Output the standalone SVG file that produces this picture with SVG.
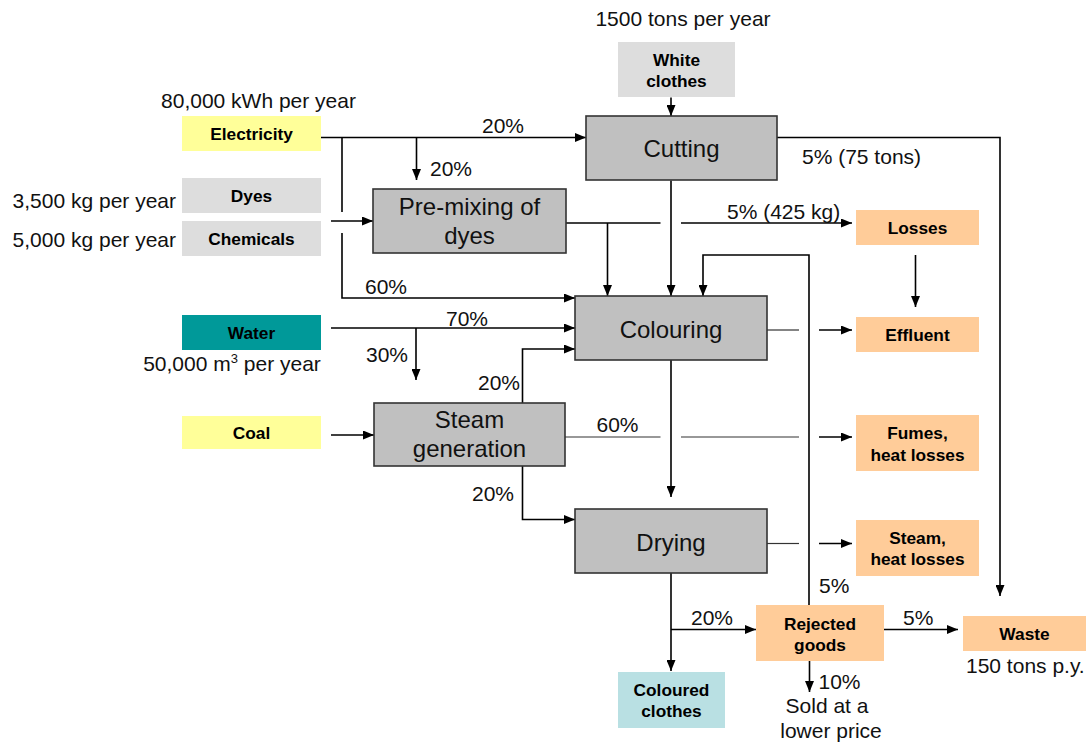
<svg xmlns="http://www.w3.org/2000/svg" width="1091" height="744" viewBox="0 0 1091 744">
  <defs>
    <marker id="ah" markerWidth="11" markerHeight="9" refX="11" refY="4.5" orient="auto" markerUnits="userSpaceOnUse">
      <path d="M0,0 L11,4.5 L0,9 z" fill="#000"/>
    </marker>
    <style>
      .proc rect { fill: #c0c0c0; stroke: #333; stroke-width: 1.6; }
      .proc text { font-family: "Liberation Sans", Arial, sans-serif; font-size: 24px; fill: #111; text-anchor: middle; }
      .inp rect { stroke: none; }
      .inp text, .out text { font-family: "Liberation Sans", Arial, sans-serif; font-size: 17.3px; font-weight: bold; fill: #000; text-anchor: middle; }
      .grey rect { fill: #dddddd; }
      .yellow rect { fill: #ffff99; }
      .teal rect { fill: #009999; }
      .out rect { fill: #ffcc99; stroke: none; }
      .prod rect { fill: #b9e0e3; stroke: none; }
      .lbl { font-family: "Liberation Sans", Arial, sans-serif; font-size: 21px; fill: #111; }
      .mid { text-anchor: middle; }
      .end { text-anchor: end; }
      .ln { fill: none; stroke: #000; stroke-width: 1.6; }
      .arr { marker-end: url(#ah); }
      .thin { fill: none; stroke: #333; stroke-width: 1.2; }
    </style>
  </defs>
  <rect x="0" y="0" width="1091" height="744" fill="#fff"/>

  <!-- connectors -->
  <g id="connectors">
    <!-- white clothes into cutting -->
    <path class="ln arr" d="M671,97.5 V116"/>
    <!-- electricity distribution -->
    <path class="ln arr" d="M321,137.5 H586"/>
    <path class="ln arr" d="M416.5,137.5 V180"/>
    <path class="ln" d="M342,137.5 V212"/>
    <path class="ln arr" d="M342,233 V298 H575"/>
    <!-- dyes and chemicals into pre-mixing -->
    <path class="ln arr" d="M331,221 H373"/>
    <!-- pre-mixing outputs -->
    <path class="ln" d="M566,223 H660.5"/>
    <path class="ln arr" d="M681,223 H852"/>
    <path class="ln arr" d="M607.5,223 V296"/>
    <!-- cutting outputs -->
    <path class="ln arr" d="M671,180.5 V296"/>
    <path class="ln arr" d="M777,137.5 H1000 V596"/>
    <!-- losses to effluent -->
    <path class="ln arr" d="M915.5,255 V307"/>
    <!-- rejected goods recycled into colouring -->
    <path class="ln arr" d="M809,605 V255 H703 V296"/>
    <!-- water distribution -->
    <path class="ln arr" d="M331,328 H575"/>
    <path class="ln arr" d="M416,328 V380"/>
    <!-- coal into steam generation -->
    <path class="ln arr" d="M331,435 H374"/>
    <!-- steam distribution -->
    <path class="ln arr" d="M522.5,403 V349 H575"/>
    <path class="ln arr" d="M522.5,466 V519.5 H575"/>
    <path class="thin" d="M565,437 H660.5"/>
    <path class="thin" d="M681,437 H799"/>
    <path class="ln arr" d="M819,437 H852"/>
    <!-- colouring outputs -->
    <path class="thin" d="M767,330 H799"/>
    <path class="ln arr" d="M819,330 H852"/>
    <path class="ln arr" d="M671,360 V497"/>
    <!-- drying outputs -->
    <path class="thin" d="M767,543.5 H799"/>
    <path class="ln arr" d="M819,543.5 H852"/>
    <path class="ln arr" d="M671,573 V671"/>
    <path class="ln arr" d="M671,629.5 H756"/>
    <!-- rejected goods outputs -->
    <path class="ln arr" d="M884,629.5 H958"/>
    <path class="ln arr" d="M809.5,661 V692"/>
  </g>

  <!-- flow labels -->
  <g id="labels">
    <text class="lbl mid" x="683" y="26">1500 tons per year</text>
    <text class="lbl mid" x="258.5" y="107.5">80,000 kWh per year</text>
    <text class="lbl end" x="176" y="208">3,500 kg per year</text>
    <text class="lbl end" x="176" y="247">5,000 kg per year</text>
    <text class="lbl mid" x="232" y="371">50,000 m<tspan font-size="13" dy="-8">3</tspan><tspan dy="8"> per year</tspan></text>
    <text class="lbl" x="482" y="133">20%</text>
    <text class="lbl" x="430" y="176">20%</text>
    <text class="lbl" x="365" y="294">60%</text>
    <text class="lbl" x="446" y="326">70%</text>
    <text class="lbl" x="366" y="362">30%</text>
    <text class="lbl" x="478" y="390">20%</text>
    <text class="lbl" x="472" y="501">20%</text>
    <text class="lbl" x="596.5" y="432">60%</text>
    <text class="lbl" x="727" y="219">5% (425 kg)</text>
    <text class="lbl" x="802" y="164">5% (75 tons)</text>
    <text class="lbl" x="819" y="593">5%</text>
    <text class="lbl" x="691" y="625">20%</text>
    <text class="lbl" x="903" y="625">5%</text>
    <text class="lbl" x="818.5" y="689">10%</text>
    <text class="lbl mid" x="827" y="713">Sold at a</text>
    <text class="lbl mid" x="831" y="738">lower price</text>
    <text class="lbl" x="966" y="673">150 tons p.y.</text>
  </g>

  <!-- inputs -->
  <g id="white-clothes" class="inp grey">
    <rect x="618" y="42" width="117" height="55"/>
    <text x="676.5" y="66">White</text>
    <text x="676.5" y="86.5">clothes</text>
  </g>
  <g id="electricity" class="inp yellow">
    <rect x="182" y="116" width="139" height="35"/>
    <text x="251.5" y="140">Electricity</text>
  </g>
  <g id="dyes" class="inp grey">
    <rect x="182" y="178" width="139" height="35"/>
    <text x="251.5" y="202">Dyes</text>
  </g>
  <g id="chemicals" class="inp grey">
    <rect x="182" y="221" width="139" height="35"/>
    <text x="251.5" y="245">Chemicals</text>
  </g>
  <g id="water" class="inp teal">
    <rect x="182" y="315" width="139" height="35"/>
    <text x="251.5" y="339">Water</text>
  </g>
  <g id="coal" class="inp yellow">
    <rect x="182" y="416" width="139" height="33"/>
    <text x="251.5" y="438.5">Coal</text>
  </g>

  <!-- processes -->
  <g id="cutting" class="proc">
    <rect x="586" y="116" width="191" height="64"/>
    <text x="681.5" y="157">Cutting</text>
  </g>
  <g id="pre-mixing" class="proc">
    <rect x="373" y="189" width="193" height="64"/>
    <text x="469.5" y="215">Pre-mixing of</text>
    <text x="469.5" y="244">dyes</text>
  </g>
  <g id="colouring" class="proc">
    <rect x="575" y="296" width="192" height="64"/>
    <text x="671" y="338">Colouring</text>
  </g>
  <g id="steam-generation" class="proc">
    <rect x="374" y="403" width="191" height="63"/>
    <text x="469.5" y="428">Steam</text>
    <text x="469.5" y="457">generation</text>
  </g>
  <g id="drying" class="proc">
    <rect x="575" y="509" width="192" height="64"/>
    <text x="671" y="551">Drying</text>
  </g>

  <!-- outputs -->
  <g id="losses" class="out">
    <rect x="856" y="210" width="123" height="35"/>
    <text x="917.5" y="233.5">Losses</text>
  </g>
  <g id="effluent" class="out">
    <rect x="856" y="317" width="123" height="35"/>
    <text x="917.5" y="341">Effluent</text>
  </g>
  <g id="fumes" class="out">
    <rect x="856" y="415" width="123" height="56"/>
    <text x="917.5" y="438.5">Fumes,</text>
    <text x="917.5" y="461">heat losses</text>
  </g>
  <g id="steam-losses" class="out">
    <rect x="856" y="520" width="123" height="56"/>
    <text x="917.5" y="543.5">Steam,</text>
    <text x="917.5" y="564.5">heat losses</text>
  </g>
  <g id="rejected-goods" class="out">
    <rect x="756" y="605" width="128" height="56"/>
    <text x="820" y="629.5">Rejected</text>
    <text x="820" y="650.5">goods</text>
  </g>
  <g id="waste" class="out">
    <rect x="963" y="616" width="123" height="35"/>
    <text x="1024.5" y="640">Waste</text>
  </g>
  <g id="coloured-clothes" class="inp prod">
    <rect x="618" y="672" width="107" height="56"/>
    <text x="671.5" y="696">Coloured</text>
    <text x="671.5" y="717">clothes</text>
  </g>
</svg>
